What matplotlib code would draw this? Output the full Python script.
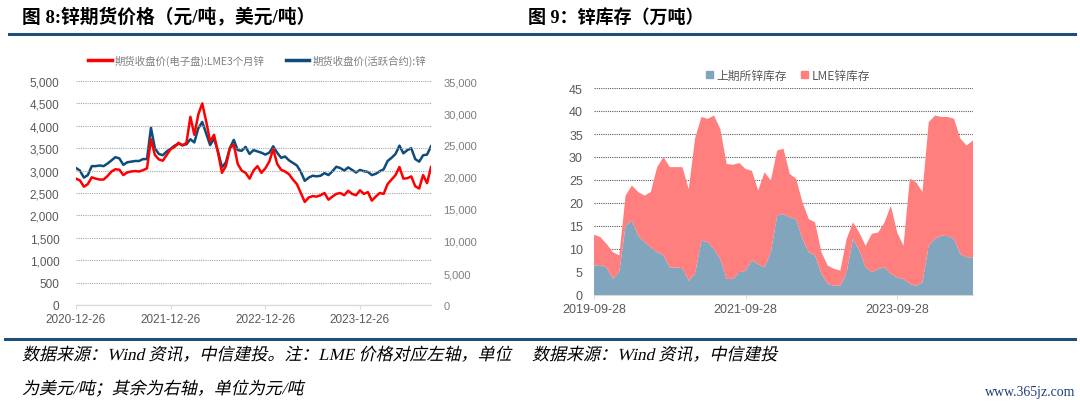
import numpy as np
import pandas as pd
import matplotlib
matplotlib.use("Agg")
import matplotlib.pyplot as plt
import matplotlib.dates as mdates
from matplotlib.lines import Line2D
from matplotlib.patches import Patch, PathPatch
from matplotlib.ticker import FuncFormatter
from matplotlib.textpath import TextPath
from matplotlib.font_manager import FontProperties
from matplotlib.transforms import Affine2D

plt.rcParams['font.family'] = ['Liberation Sans', 'Noto Sans CJK SC', 'DejaVu Sans']

# ---- Fig 8: zinc futures prices (semi-monthly readings) ----
price_dates = pd.date_range("2020-12-26", "2024-09-26", periods=91)
lme_usd = [2820, 2780, 2640, 2700, 2850, 2820, 2800, 2800, 2880, 2980,
           3030, 3020, 2900, 2960, 2980, 2990, 2980, 3010, 3050, 3700,
           3350, 3250, 3220, 3350, 3480, 3530, 3620, 3560, 3620, 4200,
           3800, 4250, 4500, 4100, 3650, 3800, 3400, 2950, 3100, 3500,
           3580, 3150, 3000, 2950, 2820, 3000, 3100, 2950, 3050, 3200,
           3480, 3150, 3020, 2980, 2920, 2800, 2700, 2500, 2300, 2400,
           2430, 2420, 2450, 2500, 2350, 2420, 2480, 2500, 2450, 2550,
           2480, 2450, 2560, 2480, 2520, 2330, 2420, 2500, 2480, 2700,
           2800, 2900, 3080, 2820, 2830, 2870, 2650, 2600, 2900, 2720,
           3080]
shfe_cny = [21400, 21000, 19900, 20300, 21700, 21700, 21800, 21700, 22100, 22600,
            23100, 22900, 21900, 22300, 22400, 22500, 22500, 22800, 22800, 27700,
            24500, 23600, 23400, 24000, 24400, 24900, 25200, 25000, 25100, 25900,
            25400, 27600, 28600, 26800, 25000, 26000, 24000, 21500, 22300, 24500,
            25800, 24200, 24100, 24700, 23600, 24200, 24000, 23800, 23500, 23800,
            24800, 23800, 23000, 23200, 22600, 22200, 21800, 20800, 19400, 19900,
            20200, 20100, 20200, 20600, 20300, 20900, 21600, 21400, 21000, 21500,
            21100, 20700, 21100, 20900, 20800, 20300, 20500, 20900, 21200, 22500,
            23000, 23600, 24900, 23700, 24200, 24500, 22800, 22400, 23400, 23500,
            24800]
price_ticks = ["2020-12-26", "2021-12-26", "2022-12-26", "2023-12-26"]

# ---- Fig 9: zinc stocks, 10k tonnes (monthly readings) ----
stock_dates = pd.date_range("2019-09-28", "2024-09-28", periods=61)
shfe_stock = [6.4, 6.5, 6.0, 3.5, 5.0, 15.0, 16.2, 12.9, 11.5, 10.4,
              9.3, 8.7, 6.0, 6.0, 5.8, 3.1, 4.6, 11.8, 11.5, 10.0,
              7.8, 3.5, 3.5, 4.9, 5.3, 7.5, 6.7, 6.0, 9.3, 17.3,
              17.6, 16.9, 16.5, 12.2, 9.3, 8.6, 4.6, 2.4, 2.0, 2.0,
              4.9, 12.2, 9.7, 6.0, 4.9, 5.7, 6.0, 4.6, 3.8, 3.5,
              2.4, 2.0, 2.8, 10.7, 12.2, 12.9, 12.8, 12.2, 8.9, 8.2,
              8.2]
lme_stock = [6.7, 6.1, 5.1, 5.8, 3.6, 6.6, 7.6, 9.5, 10.1, 12.0,
             18.5, 21.3, 21.8, 21.8, 22.0, 19.9, 29.4, 26.9, 26.8, 29.0,
             28.3, 25.0, 24.8, 23.8, 22.1, 19.5, 16.0, 20.7, 15.6, 14.1,
             14.2, 9.4, 8.8, 8.0, 7.2, 7.2, 4.7, 4.0, 3.7, 3.3,
             7.3, 3.6, 3.9, 4.7, 8.4, 7.9, 9.8, 14.8, 9.8, 7.2,
             22.9, 22.5, 19.6, 26.9, 26.8, 25.8, 25.9, 26.1, 25.1, 24.3,
             25.4]
stock_ticks = ["2019-09-28", "2021-09-28", "2023-09-28"]

RED = "#FF0000"
NAVY = "#0E4D7B"
SHFE_C = "#82A5BE"
LME_C = "#FF7F7F"
TICK_C = "#595959"
H = 410

fig = plt.figure(figsize=(10.8, 4.1), dpi=100)


def slanted(x, y, s, size=17, color="black"):
    # CJK fonts have no italic face, so shear the glyph outlines instead
    prop = FontProperties(family=['Liberation Serif', 'Noto Sans CJK SC'])
    tp = TextPath((0, 0), s, size=size, prop=prop)
    tr = Affine2D().skew_deg(13, 0).translate(x, H - y)
    fig.add_artist(PathPatch(tp, transform=tr, fc=color, lw=0))


# header / footer rules
fig.add_artist(Line2D([0.008, 0.995], [1 - 35 / H] * 2, color="#1F4E79", lw=2.2))
fig.add_artist(Line2D([0.005, 0.995], [1 - 340 / H] * 2, color="#1F4E79", lw=2.2))
title_fam = ['Liberation Serif', 'Noto Sans CJK SC']
fig.text(22 / 1080, 1 - 18 / H, "图 8:锌期货价格（元/吨，美元/吨）", family=title_fam,
         fontsize=13.5, weight="bold", va="center")
fig.text(528 / 1080, 1 - 18 / H, "图 9：锌库存（万吨）", family=title_fam,
         fontsize=13, weight="bold", va="center")

# ---------- left chart ----------
ax = fig.add_axes([76 / 1080, 1 - 306 / H, 355 / 1080, 224 / H])
ax2 = ax.twinx()
ax.plot(price_dates, lme_usd, color=RED, lw=1.8, zorder=3)
ax2.plot(price_dates, shfe_cny, color=NAVY, lw=1.8, zorder=3)
ax.set_zorder(ax2.get_zorder() + 1)
ax.patch.set_visible(False)

ax.set_ylim(0, 5000)
ax.set_yticks(np.arange(0, 5001, 500))
ax2.set_ylim(0, 35000)
ax2.set_yticks(np.arange(0, 35001, 5000))
fmt = FuncFormatter(lambda v, p: f"{int(v):,}")
ax.yaxis.set_major_formatter(fmt)
ax2.yaxis.set_major_formatter(fmt)
ax.set_xlim(price_dates[0], price_dates[-1])
ax.set_xticks(pd.to_datetime(price_ticks))
ax.xaxis.set_major_formatter(mdates.DateFormatter("%Y-%m-%d"))
ax.grid(axis="y", color="#A6A6A6", ls=(0, (1, 1)), lw=0.8)
for a in (ax, ax2):
    for s in ("top", "left", "right"):
        a.spines[s].set_visible(False)
    a.spines["bottom"].set_color("#D9D9D9")
ax.tick_params(axis="y", length=0, labelsize=8.5, labelcolor=TICK_C, pad=12)
ax2.tick_params(axis="y", length=0, labelsize=8, labelcolor="#7F7F7F", pad=9)
ax.tick_params(axis="x", length=3, color="#D9D9D9", labelsize=8.5, labelcolor=TICK_C, pad=3)

leg_fam = ['Noto Sans CJK SC', 'DejaVu Sans']
handles = [Line2D([], [], color=RED, lw=2.5), Line2D([], [], color=NAVY, lw=2.5)]
fig.legend(handles, ["期货收盘价(电子盘):LME3个月锌", "期货收盘价(活跃合约):锌"],
           loc="center", bbox_to_anchor=(257 / 1080, 1 - 61 / H), ncol=2, frameon=False,
           prop={"family": leg_fam, "size": 7.5}, labelcolor="#7F7F7F",
           handlelength=2.3, handletextpad=0.3, columnspacing=2.0)

# ---------- right chart ----------
bx = fig.add_axes([594 / 1080, 1 - 296 / H, 379 / 1080, 207 / H])
bx.stackplot(stock_dates, shfe_stock, lme_stock, colors=[SHFE_C, LME_C], lw=0, zorder=3)
bx.set_ylim(0, 45)
bx.set_yticks(np.arange(0, 46, 5))
bx.set_xlim(stock_dates[0], stock_dates[-1])
bx.set_xticks(pd.to_datetime(stock_ticks))
bx.xaxis.set_major_formatter(mdates.DateFormatter("%Y-%m-%d"))
bx.grid(axis="y", color="#595959", ls=(0, (1, 1)), lw=0.8, zorder=0)
bx.set_axisbelow(True)
for s in ("top", "left", "right"):
    bx.spines[s].set_visible(False)
bx.spines["bottom"].set_color("#D9D9D9")
bx.tick_params(axis="y", length=0, labelsize=9, labelcolor=TICK_C, pad=8)
bx.tick_params(axis="x", length=3, color="#D9D9D9", labelsize=9, labelcolor=TICK_C, pad=3)

handles = [Patch(color=SHFE_C), Patch(color=LME_C)]
fig.legend(handles, ["上期所锌库存", "LME锌库存"], loc="center",
           bbox_to_anchor=(788 / 1080, 1 - 76 / H), ncol=2, frameon=False,
           prop={"family": leg_fam, "size": 8.5}, labelcolor="#595959",
           handlelength=0.6, handleheight=0.6, handletextpad=0.3, columnspacing=1.2)

# ---------- footer ----------
slanted(22, 361, "数据来源：Wind 资讯，中信建投。注：LME 价格对应左轴，单位")
slanted(22, 395, "为美元/吨；其余为右轴，单位为元/吨")
slanted(532, 361, "数据来源：Wind 资讯，中信建投")
fig.text(1075 / 1080, 1 - 393 / H, "www.365jz.com", family=['Liberation Serif'],
         fontsize=10, color="#1F3F7A", ha="right", va="center")

fig.savefig("out.png", dpi=100)
